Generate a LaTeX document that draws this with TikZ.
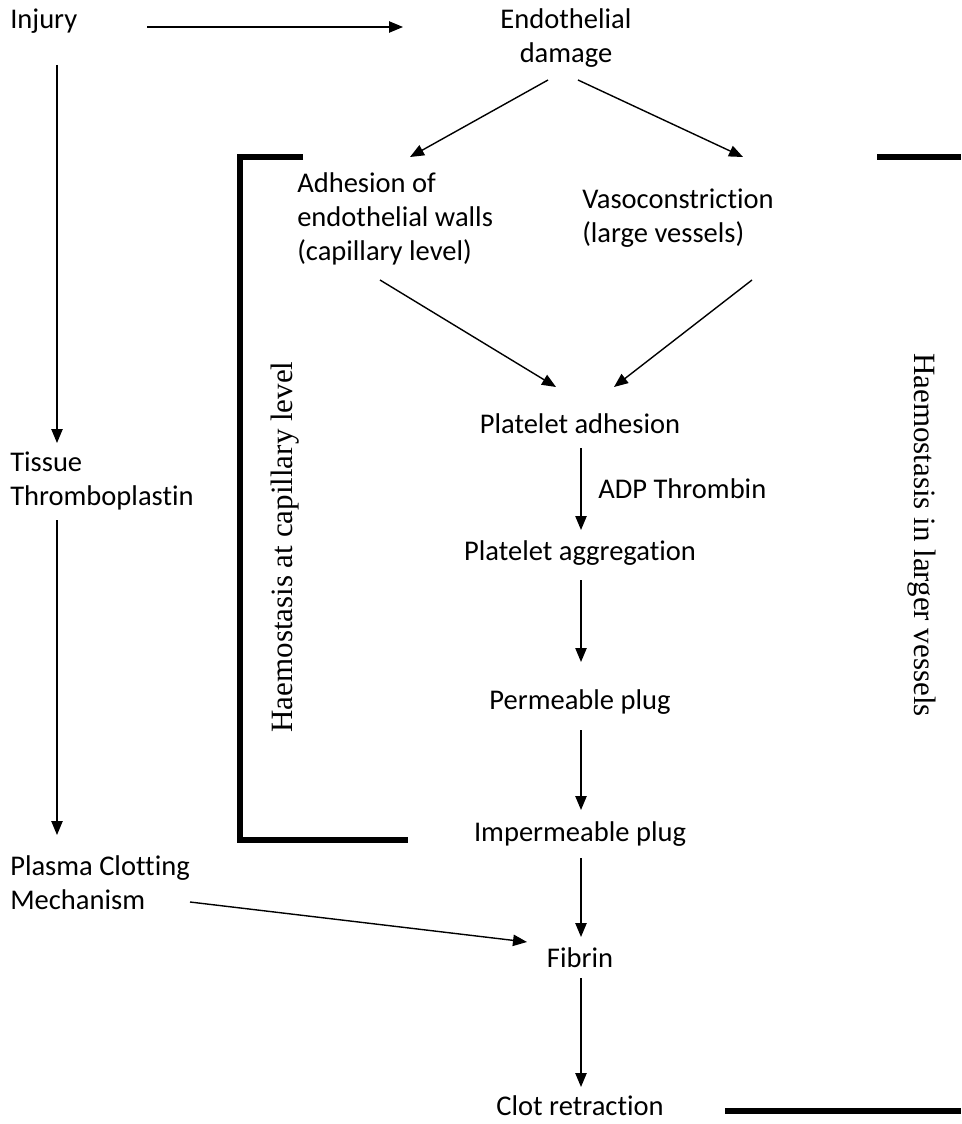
\documentclass[tikz,border=0pt]{standalone}
\usepackage{fontspec}
\setmainfont[Ligatures=CommonOff]{Carlito}
\newfontfamily\tnr{Liberation Serif}
\usetikzlibrary{arrows.meta}
\begin{document}
\begin{tikzpicture}[x=0.75pt,y=-0.75pt,
  txt/.style={inner sep=0pt, font=\fontsize{21.4}{25.5}\selectfont},
  arr/.style={line width=1.05pt, -{Triangle[length=10.5pt,width=8.5pt]}},
  brk/.style={line width=3.8pt},
  side/.style={inner sep=0pt, font=\tnr\fontsize{23.25}{28}\selectfont}]
\useasboundingbox (0,0) rectangle (961,1124);
% text nodes (base = baseline of the last line)
\node[txt, anchor=base west] (injury) at (10,29) {Injury};
\node[txt, anchor=base, align=center] (endo) at (566,63) {Endothelial\\damage};
\node[txt, anchor=base west, align=left] (adh) at (297,260) {Adhesion of\\endothelial walls\\(capillary level)};
\node[txt, anchor=base west, align=left] (vaso) at (582,242) {Vasoconstriction\\(large vessels)};
\node[txt, anchor=base west, align=left] (tissue) at (10,505) {Tissue\\Thromboplastin};
\node[txt, anchor=base west, align=left] (plasma) at (10,909) {Plasma Clotting\\Mechanism};
\node[txt, anchor=base] (pa) at (580,433) {Platelet adhesion};
\node[txt, anchor=base west] (adp) at (598,498) {ADP Thrombin};
\node[txt, anchor=base] (pg) at (580,560) {Platelet aggregation};
\node[txt, anchor=base] (perm) at (580,709) {Permeable plug};
\node[txt, anchor=base] (imperm) at (580,841) {Impermeable plug};
\node[txt, anchor=base] (fibrin) at (580,967) {Fibrin};
\node[txt, anchor=base] (clot) at (580,1115) {Clot retraction};
\node[side, rotate=90] (capl) at (285,547) {Haemostasis at capillary level};
\node[side, rotate=-90] (larg) at (922,535) {Haemostasis in larger vessels};
% brackets
\draw[brk] (303,157) -- (240,157) -- (240,840) -- (408,840);
\draw[brk] (877,157) -- (961,157);
\draw[brk] (725,1111) -- (961,1111);
% connectors
\draw[arr] ([shift={(137,-2)}]injury.base west) -- ([shift={(-163,-36)}]endo.base);
\draw[arr] ([shift={(47,36)}]injury.base west) -- ([shift={(47,-62)}]tissue.base west);
\draw[arr] ([shift={(47,15)}]tissue.base west) -- ([shift={(47,-74)}]plasma.base west);
\draw[arr] ([shift={(180,-7)}]plasma.base west) -- ([shift={(-53,-25)}]fibrin.base);
\draw[arr] ([shift={(-18,17)}]endo.base) -- ([shift={(113,-103)}]adh.base west);
\draw[arr] ([shift={(12,17)}]endo.base) -- ([shift={(161,-85)}]vaso.base west);
\draw[arr] ([shift={(83,20)}]adh.base west) -- ([shift={(-24,-46)}]pa.base);
\draw[arr] ([shift={(170,38)}]vaso.base west) -- ([shift={(34,-46)}]pa.base);
\draw[arr] ([shift={(1,15)}]pa.base) -- ([shift={(1,-30)}]pg.base);
\draw[arr] ([shift={(1,20)}]pg.base) -- ([shift={(1,-47)}]perm.base);
\draw[arr] ([shift={(1,21)}]perm.base) -- ([shift={(1,-31)}]imperm.base);
\draw[arr] ([shift={(1,17)}]imperm.base) -- ([shift={(1,-30)}]fibrin.base);
\draw[arr] ([shift={(1,11)}]fibrin.base) -- ([shift={(1,-28)}]clot.base);
\end{tikzpicture}
\end{document}
